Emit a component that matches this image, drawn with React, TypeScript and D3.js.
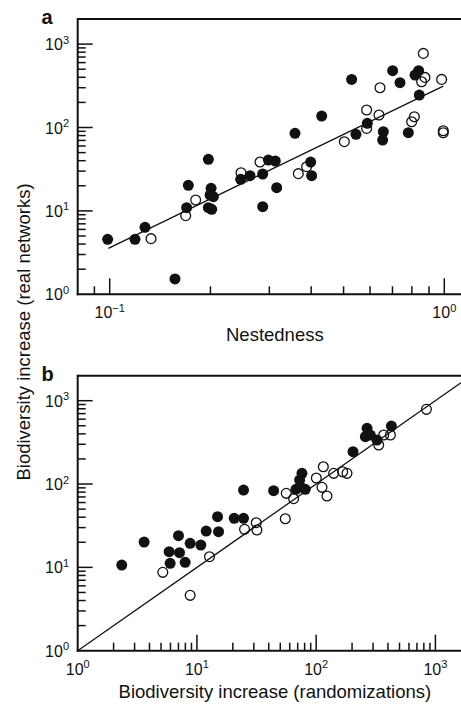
import React from "react";
import * as d3 from "d3";

// ---------- Panel a: nestedness vs biodiversity increase ----------
const aFilledX = [0.0986, 0.119, 0.1275, 0.1567, 0.1718, 0.1698, 0.1972, 0.2009, 0.1995, 0.2041, 0.1972, 0.2018, 0.2463, 0.2626, 0.2866, 0.2981, 0.3126, 0.2866, 0.3155, 0.3579, 0.3987, 0.4014, 0.4301, 0.5285, 0.5445, 0.5887, 0.6573, 0.6543, 0.7009, 0.7372, 0.7806, 0.8174, 0.838, 0.8419];
const aFilledY = [4.56, 4.56, 6.35, 1.53, 20.25, 10.94, 41.5, 18.64, 15.5, 14.81, 10.94, 10.44, 23.89, 26.44, 27.69, 40.74, 39.63, 11.24, 18.99, 85.05, 38.56, 26.44, 137.2, 377.5, 82.75, 112.1, 89.07, 70.76, 479.6, 344.3, 86.62, 425.6, 479.6, 245];
const aOpenX = [0.1329, 0.1687, 0.1807, 0.2469, 0.2813, 0.3662, 0.3878, 0.5026, 0.586, 0.586, 0.638, 0.6424, 0.7989, 0.8137, 0.8656, 0.8556, 0.8754, 0.9818, 0.9931, 0.9931];
const aOpenY = [4.65, 8.77, 13.51, 28.72, 38.56, 27.95, 33.9, 67.57, 161.9, 97.6, 141.1, 299.9, 117.3, 134.7, 773.6, 353.9, 398.9, 377.5, 91.5, 86.6];
const aFitX = [0.0991, 0.9931];
const aFitY = [3.56, 314.1];

// ---------- Panel b: real networks vs randomizations ----------
const bFilledX = [2.341, 3.606, 5.846, 5.96, 7.003, 7.14, 7.965, 8.775, 10.78, 11.96, 14.89, 15.18, 20.54, 24.6, 24.6, 43.95, 67.69, 72.65, 75.99, 81.06, 73.6, 203.7, 267.1, 258.6, 284.8, 323.9, 427.4];
const bFilledY = [10.67, 20.14, 15.42, 11.17, 23.99, 15.0, 11.48, 19.41, 18.54, 27.29, 40.55, 26.79, 38.73, 38.73, 84.72, 83.18, 86.3, 111.7, 134.3, 86.3, 92.9, 244.3, 465.6, 369.8, 387.3, 337.3, 496.6];
const bOpenX = [5.172, 8.775, 12.75, 25.08, 31.43, 31.84, 55.07, 56.13, 64.7, 100.3, 111.9, 114.8, 123.2, 140.2, 166.8, 181.4, 334.5, 368.6, 419.3, 840.8];
const bOpenY = [8.71, 4.613, 13.43, 28.58, 34.36, 28.05, 38.37, 77.27, 66.68, 118, 91.2, 161.4, 71.78, 134.3, 140.6, 134.3, 293.8, 387.3, 387.3, 787];

const xTitleA = "Nestedness";
const xTitleB = "Biodiversity increase (randomizations)";
const yTitle = "Biodiversity increase (real networks)";

const FONT = "'Liberation Sans', Arial, Helvetica, sans-serif";
const W = 461;
const H = 705;

type Tick = { v: number; major: boolean; e: number };
function logTicks(lo: number, hi: number): Tick[] {
  const out: Tick[] = [];
  for (let e = Math.floor(Math.log10(lo)); e <= Math.ceil(Math.log10(hi)); e++) {
    for (let k = 1; k <= 9; k++) {
      const v = k * Math.pow(10, e);
      if (v > lo && v < hi) out.push({ v, major: k === 1, e });
    }
  }
  return out;
}

function expLabel(e: number) {
  return e < 0 ? "\u2212" + Math.abs(e) : String(e);
}

type PanelProps = {
  letter: string;
  x: d3.ScaleLogarithmic<number, number>;
  y: d3.ScaleLogarithmic<number, number>;
  left: number;
  right: number;
  top: number;
  bottom: number;
  filledX: number[];
  filledY: number[];
  openX: number[];
  openY: number[];
  fitX: number[];
  fitY: number[];
  xTitle: string;
  clipId: string;
};

function Panel(p: PanelProps) {
  const { x, y, left, right, top, bottom } = p;
  const xLo = x.invert(left), xHi = x.invert(right);
  const yLo = y.invert(bottom), yHi = y.invert(top);
  const xt = logTicks(xLo, xHi).filter((t) => x(t.v) > left + 3);
  const yt = logTicks(yLo, yHi).filter((t) => y(t.v) < bottom - 3 && y(t.v) > top + 3);
  const line = d3
    .line<number>()
    .x((_, i) => x(p.fitX[i]))
    .y((_, i) => y(p.fitY[i]));
  const r = 5.5;
  return (
    <g>
      <defs>
        <clipPath id={p.clipId}>
          <rect x={left} y={top} width={right - left} height={bottom - top} />
        </clipPath>
      </defs>
      <path d={line(p.fitX) || ""} fill="none" stroke="#111" strokeWidth={1.3} clipPath={`url(#${p.clipId})`} />
      {p.openX.map((v, i) => (
        <circle key={"o" + i} cx={x(v)} cy={y(p.openY[i])} r={r - 0.6} fill="none" stroke="#111" strokeWidth={1.3} />
      ))}
      {p.filledX.map((v, i) => (
        <circle key={"f" + i} cx={x(v)} cy={y(p.filledY[i])} r={r} fill="#111" />
      ))}
      {/* frame */}
      <line x1={left} x2={right} y1={top} y2={top} stroke="#111" strokeWidth={2} />
      <line x1={left} x2={left} y1={top - 1} y2={bottom + 1} stroke="#111" strokeWidth={2} />
      <line x1={left - 1} x2={right} y1={bottom} y2={bottom} stroke="#111" strokeWidth={2} />
      {xt.map((t, i) => (
        <line key={"xt" + i} x1={x(t.v)} x2={x(t.v)} y1={bottom} y2={bottom - (t.major ? 16 : 8)} stroke="#111" strokeWidth={1.5} />
      ))}
      {yt.map((t, i) => (
        <line key={"yt" + i} x1={left} x2={left + (t.major ? 15 : 8)} y1={y(t.v)} y2={y(t.v)} stroke="#111" strokeWidth={1.5} />
      ))}
      {logTicks(xLo * 0.999, xHi)
        .filter((t) => t.major)
        .map((t, i) => (
          <text key={"xl" + i} x={x(t.v)} y={bottom + 24} textAnchor="middle" fontSize={16} fontFamily={FONT} fill="#111">
            10
            <tspan fontSize={11} dy={-6.5}>{expLabel(t.e)}</tspan>
          </text>
        ))}
      {logTicks(yLo * 0.999, yHi)
        .filter((t) => t.major)
        .map((t, i) => (
          <text key={"yl" + i} x={69} y={y(t.v) + 6} textAnchor="end" fontSize={16} fontFamily={FONT} fill="#111">
            10
            <tspan fontSize={11} dy={-6.5}>{expLabel(t.e)}</tspan>
          </text>
        ))}
      <text x={(left + 472) / 2} y={bottom + 47} textAnchor="middle" fontSize={18.5} fontFamily={FONT} fill="#111">
        {p.xTitle}
      </text>
      <text x={41.5} y={top + 5} fontSize={20} fontWeight="bold" fontFamily={FONT} fill="#111">
        {p.letter}
      </text>
    </g>
  );
}

export default function App() {
  const left = 77.7;
  const right = W;
  const xA = d3.scaleLog().domain([0.1, 1]).range([109.7, 444.3]);
  const yA = d3.scaleLog().domain([1, 1000]).range([294.3, 44.1]);
  const xB = d3.scaleLog().domain([1, 1000]).range([77.7, 435.4]);
  const yB = d3.scaleLog().domain([1, 1000]).range([650.7, 400.7]);
  const xLoB = xB.invert(left), xHiB = xB.invert(right);
  const diagX = [xLoB, xHiB];
  const diagY = [xLoB, xHiB];
  return (
    <svg width={W} height={H} style={{ position: "absolute", left: 0, top: 0, background: "#fff" }}>
      <rect x={0} y={0} width={W} height={H} fill="#fff" />
      <Panel letter="a" x={xA} y={yA} left={left} right={right} top={19} bottom={294.3}
        filledX={aFilledX} filledY={aFilledY} openX={aOpenX} openY={aOpenY}
        fitX={aFitX} fitY={aFitY} xTitle={xTitleA} clipId="clipA" />
      <Panel letter="b" x={xB} y={yB} left={left} right={right} top={375.7} bottom={650.7}
        filledX={bFilledX} filledY={bFilledY} openX={bOpenX} openY={bOpenY}
        fitX={diagX} fitY={diagY} xTitle={xTitleB} clipId="clipB" />
      <text transform="translate(30,332) rotate(-90)" textAnchor="middle" fontSize={18.5} fontFamily={FONT} fill="#111">
        {yTitle}
      </text>
    </svg>
  );
}
